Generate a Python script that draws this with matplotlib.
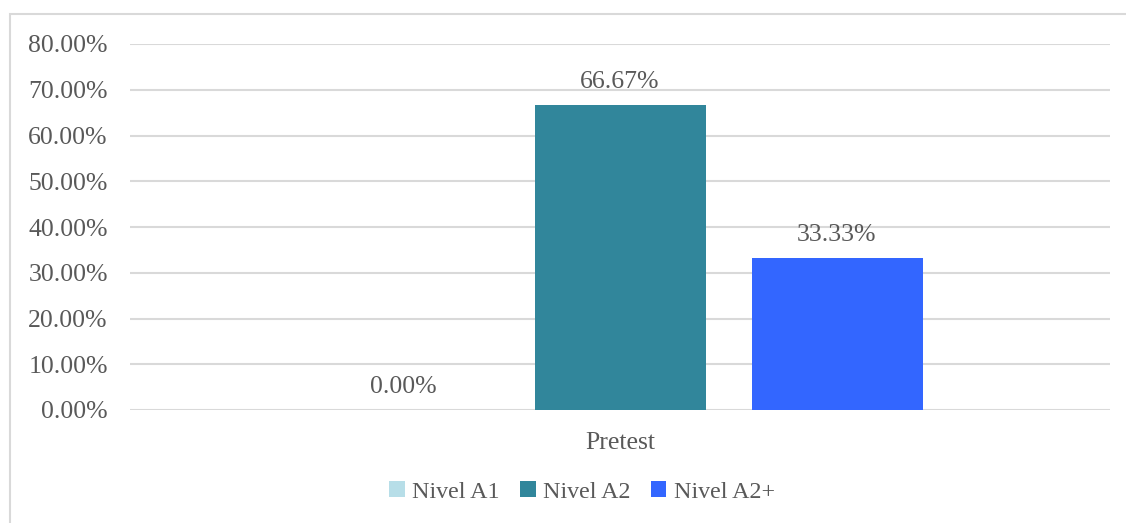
import matplotlib
matplotlib.use("Agg")
import matplotlib.pyplot as plt
from matplotlib.patches import Rectangle, Patch
from matplotlib.ticker import FuncFormatter

categories = ["Pretest"]
series = ["Nivel A1", "Nivel A2", "Nivel A2+"]
values = [0.0, 66.67, 33.33]
colors = ["#B7DEE8", "#31869B", "#3366FF"]
yticks = [0, 10, 20, 30, 40, 50, 60, 70, 80]

plt.rcParams['font.family'] = ['Liberation Serif', 'DejaVu Serif']
TXT = "#595959"
FS = 18.5

W, H = 1126, 523
fig = plt.figure(figsize=(W/100, H/100), dpi=100)
ax = fig.add_axes([130/W, 1-410/H, 980/W, 366/H])

spacing = 217/980
width = 171/980
for i, (s, v, c) in enumerate(zip(series, values, colors)):
    x = (i - 1) * spacing
    ax.bar(x, v, width=width, color=c, zorder=3)
    ax.text(x, v + 2.6, f"{v:.2f}%", ha="center", va="bottom", fontsize=FS, color=TXT)

ax.set_xlim(-0.5, 0.5)
ax.set_ylim(0, 80)
ax.set_yticks(yticks)
ax.yaxis.set_major_formatter(FuncFormatter(lambda v, p: f"{v:.2f}%"))
ax.set_xticks([0])
ax.set_xticklabels(categories)
ax.tick_params(axis="both", length=0, labelsize=FS, colors=TXT)
ax.tick_params(axis="y", pad=16)
ax.tick_params(axis="x", pad=16)
ax.grid(axis="y", color="#D9D9D9", linewidth=1.5, zorder=0)
for sp in ax.spines.values():
    sp.set_visible(False)

handles = [Patch(facecolor=c, edgecolor="none") for c in colors]
fig.legend(handles, series, loc="center", bbox_to_anchor=(582/W, 1-492/H), ncol=3,
           frameon=False, fontsize=17.3, labelcolor=TXT, handlelength=0.65, handleheight=0.65,
           handletextpad=0.3, columnspacing=0.85)

fig.patches.append(Rectangle((10/W, -0.05), 1.1, 1.05 - 14.5/H, transform=fig.transFigure,
                             fill=False, edgecolor="#D9D9D9", linewidth=1.5))

fig.savefig("out.png", dpi=100)
